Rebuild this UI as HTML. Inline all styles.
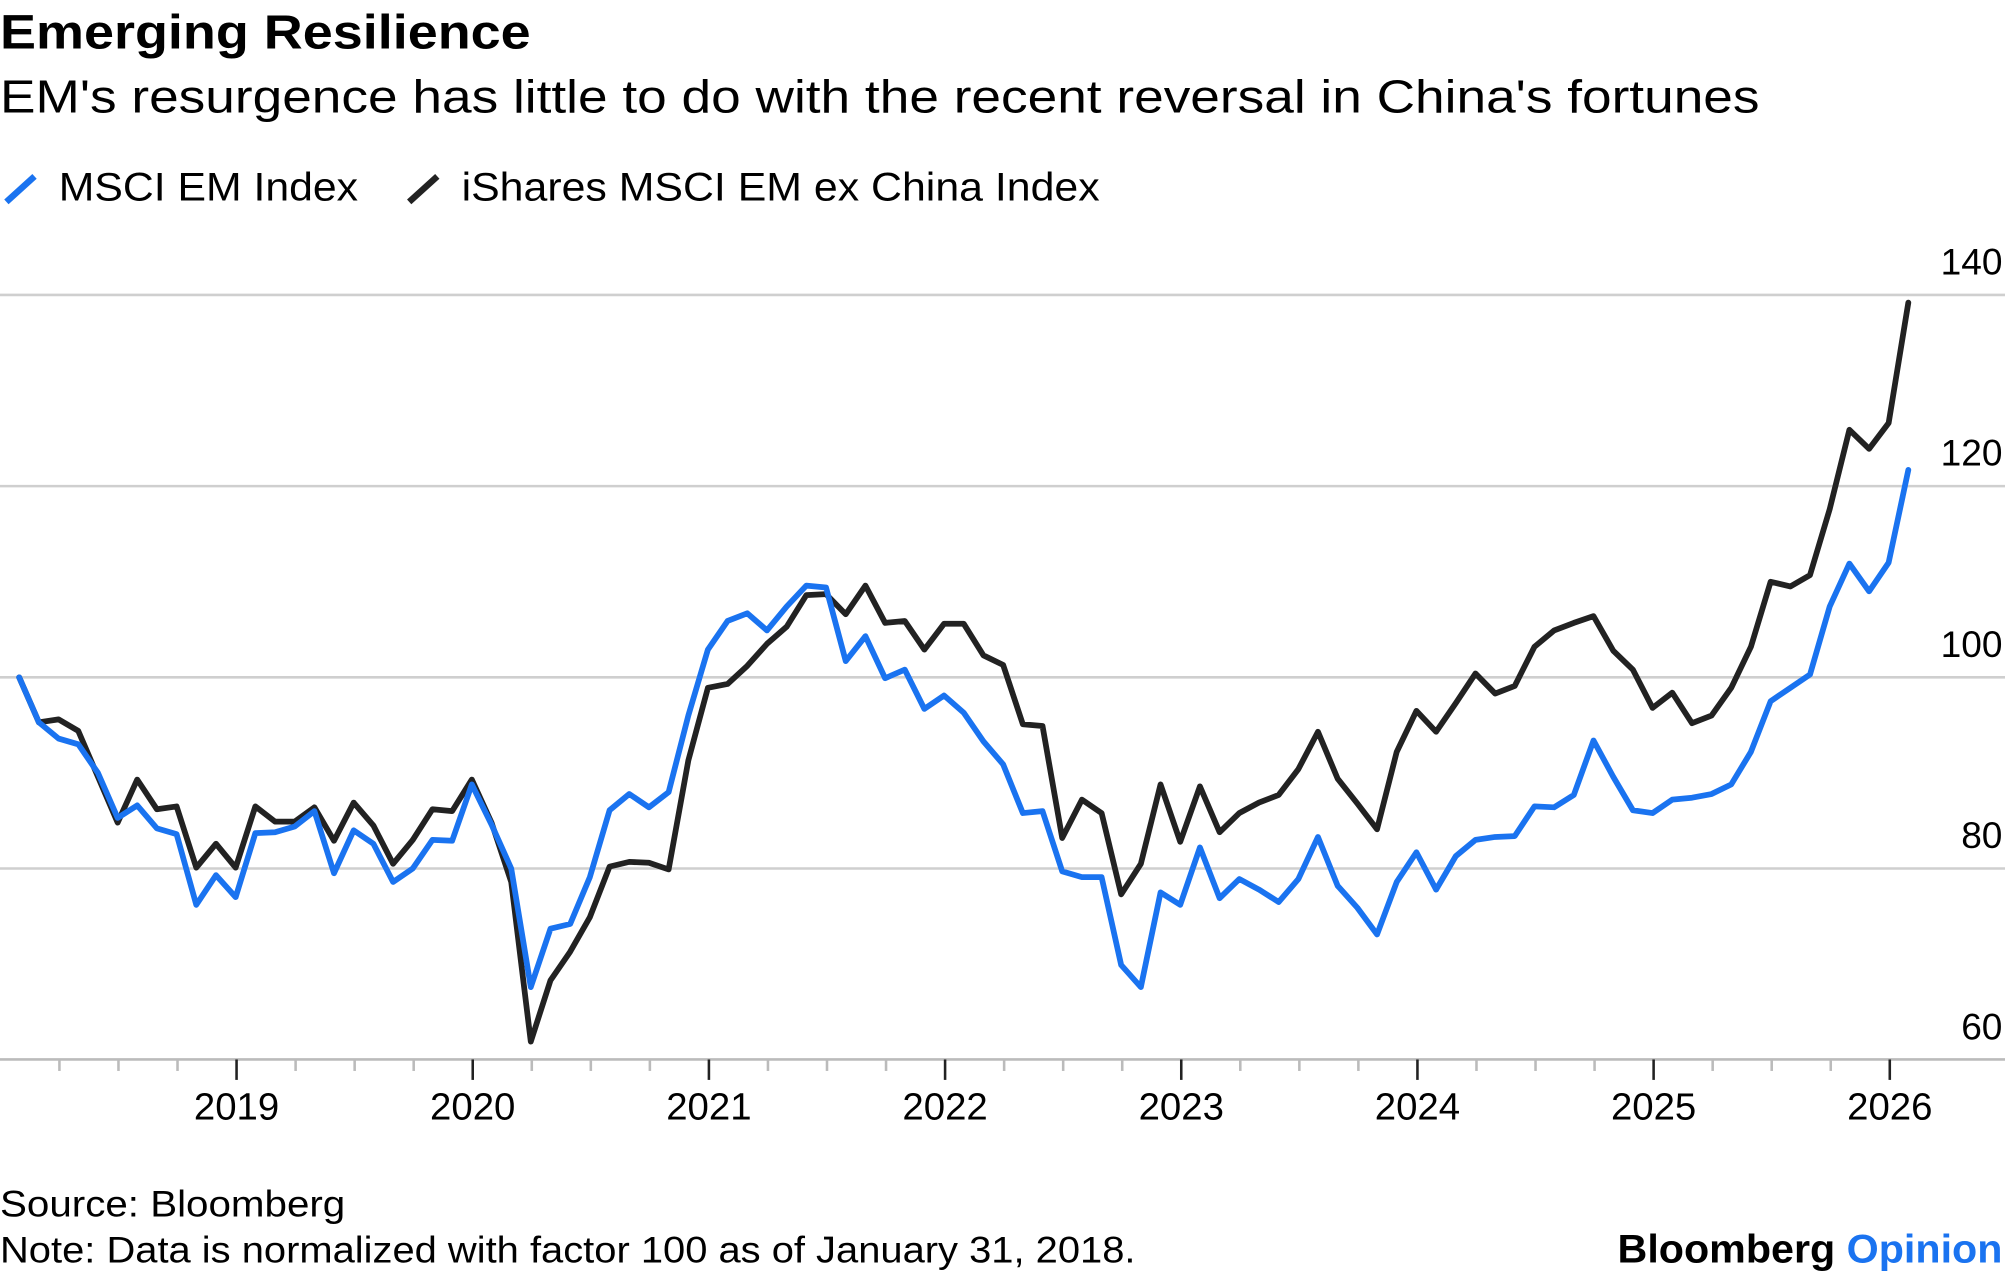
<!DOCTYPE html>
<html><head><meta charset="utf-8"><style>
html,body{margin:0;padding:0;background:#fff;}
svg{display:block;font-family:"Liberation Sans",Arial,sans-serif;}
</style></head><body>
<svg id="chart" width="2005" height="1278" viewBox="0 0 1568 1000" preserveAspectRatio="none" xmlns="http://www.w3.org/2000/svg">
<text x="0" y="38" font-size="38" font-weight="bold" fill="#000" textLength="415" lengthAdjust="spacingAndGlyphs">Emerging Resilience</text>
<text x="0" y="88" font-size="36" fill="#000" textLength="1376" lengthAdjust="spacingAndGlyphs">EM's resurgence has little to do with the recent reversal in China's fortunes</text>
<g>
<line x1="5" y1="158" x2="27" y2="138" stroke="#1a73f0" stroke-width="5"/>
<text x="46" y="157" font-size="31" textLength="234" lengthAdjust="spacingAndGlyphs">MSCI EM Index</text>
<line x1="320" y1="158" x2="342" y2="138" stroke="#222" stroke-width="5"/>
<text x="361" y="157" font-size="31" textLength="499" lengthAdjust="spacingAndGlyphs">iShares MSCI EM ex China Index</text>
</g>
<g id="grid"></g>
<g id="xaxis"></g>
<g id="series"></g>
<text x="0" y="952" font-size="29" textLength="270" lengthAdjust="spacingAndGlyphs">Source: Bloomberg</text>
<text x="0" y="988" font-size="29" textLength="888" lengthAdjust="spacingAndGlyphs">Note: Data is normalized with factor 100 as of January 31, 2018.</text>
<text x="1566" y="988" font-size="31" font-weight="bold" text-anchor="end" textLength="301" lengthAdjust="spacingAndGlyphs">Bloomberg <tspan fill="#1a73f0">Opinion</tspan></text>
</svg>
<script>
const yTicks = [60, 80, 100, 120, 140];
const xYears = [2019, 2020, 2021, 2022, 2023, 2024, 2025, 2026];
const msciEM = [100,95.3,93.6,93,90,85.3,86.6,84.2,83.6,76.2,79.3,77,83.7,83.8,84.4,86,79.5,84,82.6,78.6,80,83,82.9,88.8,84.6,80,67.6,73.7,74.2,79.1,86.1,87.8,86.4,88,96,102.9,105.9,106.7,104.9,107.4,109.6,109.4,101.7,104.3,99.9,100.8,96.7,98.1,96.3,93.3,90.9,85.8,86,79.7,79.1,79.1,69.9,67.6,77.5,76.2,82.2,76.9,78.9,77.8,76.5,78.9,83.3,78.2,75.9,73.1,78.6,81.7,77.8,81.3,83,83.3,83.4,86.5,86.4,87.7,93.4,89.6,86.1,85.8,87.2,87.4,87.8,88.8,92.2,97.5,98.9,100.3,107.4,111.9,109,112,121.7];
const emExChina = [100,95.3,95.6,94.4,89.6,84.8,89.3,86.2,86.5,80.1,82.6,80.1,86.5,84.9,84.9,86.4,82.9,86.9,84.5,80.5,83,86.2,86,89.3,84.8,78.6,61.9,68.3,71.3,74.9,80.2,80.7,80.6,79.9,91.3,98.9,99.3,101.2,103.5,105.3,108.6,108.7,106.6,109.6,105.7,105.9,102.9,105.6,105.6,102.3,101.3,95.1,94.9,83.2,87.2,85.8,77.3,80.5,88.8,82.8,88.6,83.8,85.8,86.9,87.7,90.4,94.3,89.4,86.8,84.1,92.2,96.5,94.3,97.3,100.4,98.3,99.1,103.2,104.9,105.7,106.4,102.8,100.8,96.8,98.4,95.2,96,98.9,103.2,110,109.5,110.7,117.6,125.9,123.9,126.6,139.2];
const NS = "http://www.w3.org/2000/svg";
function yScale(v){ return 530 - (v - 100) * 7.48; }
function xScaleYear(t){ return 185 + (t - 2019) * 184.7; }
function xScaleIdx(i){ return 15 + i * 15.39; }
function mk(tag, attrs, parent){ const e=document.createElementNS(NS,tag); for(const k in attrs) e.setAttribute(k,attrs[k]); parent.appendChild(e); return e; }
const grid=document.getElementById('grid');
yTicks.forEach(v=>{
  if(v>60){
    const l=mk('line',{x1:0,x2:1568,y1:yScale(v),y2:yScale(v),stroke:'#cfcfcf','stroke-width':2},grid);
    
    
  }
  const t=mk('text',{x:1566,y:yScale(v)-16,'font-size':29,'text-anchor':'end',fill:'#000'},grid);
  t.textContent=v;
  
  
});
const xa=document.getElementById('xaxis');
const ax=mk('line',{x1:0,x2:1568,y1:829,y2:829,stroke:'#bbb','stroke-width':2},xa);


for(let q=1;q<33;q++){
  const t=2018+q/4; const x=xScaleYear(t);
  if(q%4===0) continue;
  const l=mk('line',{x1:x,x2:x,y1:829,y2:838,stroke:'#bbb','stroke-width':2},xa);
  
  
}
xYears.forEach(y=>{
  const x=xScaleYear(y);
  const l=mk('line',{x1:x,x2:x,y1:829,y2:845,stroke:'#222','stroke-width':2},xa);
  
  
  const t=mk('text',{x:x,y:876,'font-size':30,'text-anchor':'middle'},xa);
  t.textContent=y;
  
  
});
const sg=document.getElementById('series');
function drawLine(arr,color,name){
  const d=arr.map((v,i)=>(i?'L':'M')+xScaleIdx(i).toFixed(1)+','+yScale(v).toFixed(1)).join(' ');
  const p=mk('path',{d:d,fill:'none',stroke:color,'stroke-width':4.5,'stroke-linejoin':'round','stroke-linecap':'round'},sg);
  
  
}
drawLine(emExChina,'#222','line-em-ex-china');
drawLine(msciEM,'#1a73f0','line-msci-em');
</script>
</body></html>
